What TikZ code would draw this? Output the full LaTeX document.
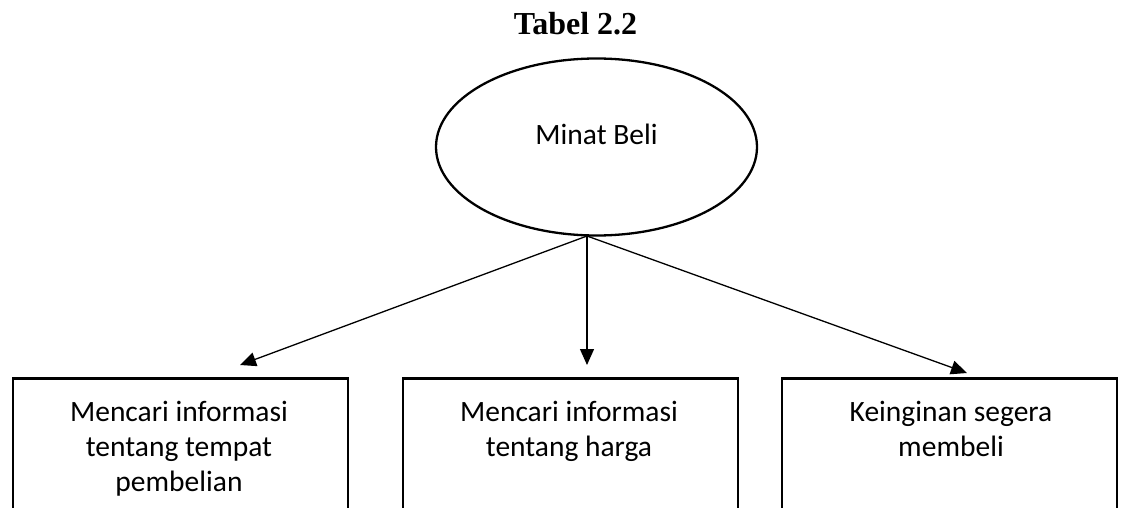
\documentclass[tikz,border=0pt]{standalone}
\usepackage{fontspec}
\setmainfont{Carlito}
\newfontfamily\titlefont{Liberation Serif}
\usetikzlibrary{shapes.geometric,arrows.meta}
\begin{document}
\begin{tikzpicture}[x=1pt,y=-1pt,
  boxshape/.style={draw,line width=2.6pt,rectangle,minimum width=335pt,minimum height=200pt,anchor=north,inner sep=0pt},
  boxtext/.style={anchor=north,align=center,inner sep=0pt,font=\fontsize{29.5}{35}\selectfont},
  conn/.style={line width=1.3pt,-{Triangle[length=16pt,width=14pt]}},
  oval/.style={draw,ellipse,line width=2.3pt,minimum width=321pt,minimum height=177pt,inner sep=0pt,
    font=\fontsize{29.5}{34}\selectfont,text height=20pt,text depth=24pt}]
\useasboundingbox (0,0) rectangle (1122,508);
\clip (0,0) rectangle (1122,508);
% title
\node[anchor=base,font=\titlefont\bfseries\fontsize{32}{36}\selectfont,inner sep=0pt] (title) at (575.5,35) {Tabel 2.2};
% ellipse
\node[oval] (minat) at (596.5,147) {Minat Beli};
% boxes
\node[boxshape] (b1) at (180.5,377) {};
\node[boxshape] (b2) at (570.5,377) {};
\node[boxshape] (b3) at (949.5,377) {};
\node[boxtext] (t1) at (179,401) {Mencari informasi\\tentang tempat\\pembelian};
\node[boxtext] (t2) at (569,401) {Mencari informasi\\tentang harga};
\node[boxtext] (t3) at (951,401) {Keinginan segera\\membeli};
% connectors
\coordinate (apex) at (587,236);
\coordinate (e1) at (240,365);
\coordinate (e2) at (587,365);
\coordinate (e3) at (967,373);
\draw[conn] (apex) -- (e1);
\draw[conn] (apex) -- (e2);
\draw[conn] (apex) -- (e3);
\end{tikzpicture}
\end{document}
